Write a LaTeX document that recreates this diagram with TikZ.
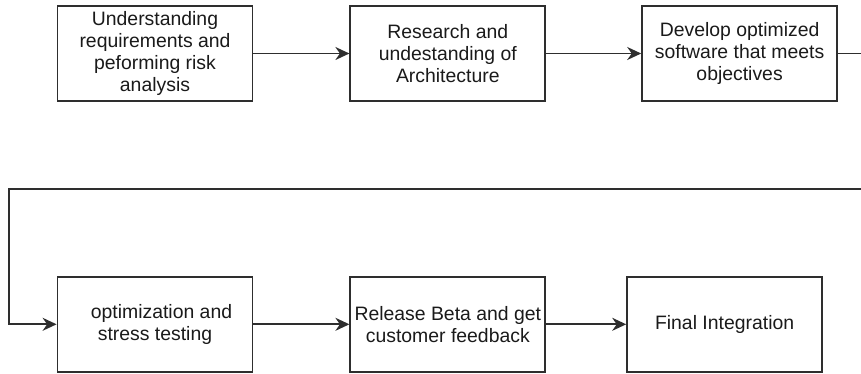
\documentclass[tikz,border=0pt]{standalone}
\usepackage{fontspec}
\setmainfont{Liberation Sans}
\usetikzlibrary{arrows.meta, positioning}
\definecolor{edge}{HTML}{2E2E2E}
\definecolor{txt}{HTML}{1A1A1A}

\begin{document}
\begin{tikzpicture}[x=1pt, y=-1pt, font=\fontsize{19.4}{22.3}\selectfont,
          box/.style={draw=edge, line width=1.8pt, fill=white, text=txt,
                      minimum width=195pt, minimum height=95pt, inner sep=2pt,
                      align=center},
          link/.style={-{Stealth[length=14pt, width=13pt, inset=4.5pt]}, edge, line width=1.8pt}]
        \useasboundingbox (0,0) rectangle (861,374);
        \clip (0,0) rectangle (861,374);
        \node[box] (req) at (155,53.5) {Understanding\\ requirements and\\ peforming risk\\ analysis};
        \node[box, right=96pt of req] (arch) {Research and\\ undestanding of\\ Architecture};
        \node[box, right=95pt of arch] (dev) {Develop optimized\\ software that meets\\ objectives};
        \node[box, below=174pt of req] (opt) {\hspace*{13pt}optimization and\\ stress testing};
        \node[box, right=96pt of opt] (beta) {Release Beta and get\\ customer feedback};
        \node[box, right=80pt of beta] (final) {Final Integration};
        \coordinate (wrapR) at (890,189);
        \coordinate (wrapL) at (9,189);
        \draw[link] (req) -- (arch);
        \draw[link] (arch) -- (dev);
        \draw[link] (dev.east) -| (wrapR) -- (wrapL) |- (opt.west);
        \draw[link] (opt) -- (beta);
        \draw[link] (beta) -- (final);
      \end{tikzpicture}
\end{document}
